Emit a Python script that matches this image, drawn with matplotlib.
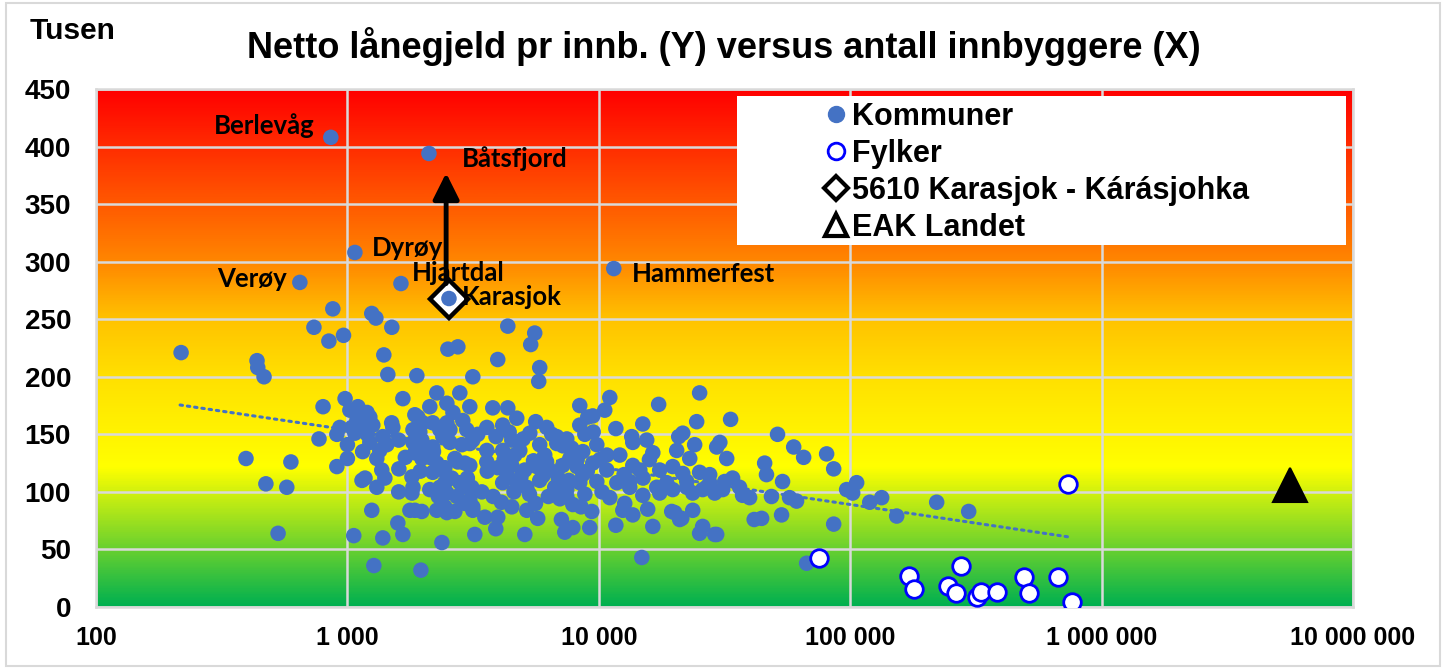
import numpy as np
import matplotlib
matplotlib.use("Agg")
import matplotlib.pyplot as plt
from matplotlib.colors import LinearSegmentedColormap
from matplotlib.lines import Line2D
from matplotlib.patches import Rectangle
from matplotlib.ticker import NullLocator

# ---------------- DATA ----------------
kommune_pop = [
    218, 437, 440, 466, 395, 596, 474, 574, 530,
    647, 875, 736, 844, 965, 859, 800, 771, 908, 1000, 979, 908, 933, 1000,
    1071, 1633, 2110, 2535, 11470,
    1250, 1298, 1502, 1396, 1448, 1889, 2510, 2750, 1662, 2268, 2127,
    1023, 1101, 1197, 1228, 1091, 1042, 1143, 1262, 1071, 1228, 1383, 1516, 1823, 1906, 1995, 2332, 2487, 2487,
    1309, 1345, 1435, 2800, 3154, 3068, 1855, 1941, 1977, 2186, 2397, 2557, 2877, 2984, 3154,
    1370, 1409, 1309, 1602, 1143, 1175, 1806, 1823, 1806, 1855, 1977, 1773, 2127, 2268, 2397, 2127, 2332,
    2487, 2725, 2930, 3068, 3154, 2268, 2487, 2676, 2800, 2984, 3212, 2750, 2930, 2852, 3068,
    1823, 1995, 2186, 1855, 1977, 2186, 2420, 2442,
    1060, 1274, 1960, 1250, 1383, 1587, 1662, 2376,
    4345, 5560, 5360, 3963, 5821, 5768, 11060, 8400, 25180, 17300, 33440, 24510, 14960, 11690, 10560,
    9040, 9462, 8400, 13520, 15510, 21580, 20790,
    2629, 3787, 4345, 4717, 4147, 3586, 5611, 6207, 6806, 7459, 5316, 4507,
    2557, 3586, 4147, 4850, 5821, 6806, 8636, 9819, 10760, 12120, 13650, 16400, 20410, 24060, 29440,
    2442, 3068, 3586, 3963, 4507, 5078, 5663, 6380, 7190, 8180, 8636, 9462, 10760, 13650, 14560,
    17470, 19680, 21580, 25180, 27610,
    2442, 3125, 3426, 4147, 4717, 5172, 5821, 6680, 7459, 8400, 9819, 11800, 13280, 17000, 19680,
    22380, 25890, 28910,
    14830, 5078, 3892, 9205, 11690, 16400, 7323, 7882, 7100, 25180, 25890, 28910, 13650, 15650, 12460,
    12680, 23640, 20980, 19500, 5715, 5172, 3521, 3154, 3963, 4100, 4507, 9376, 8500, 7882, 7459,
    11060, 13280, 14960, 17470, 18620,
    2676, 4632, 6094, 7668, 10090, 15900, 23000,
    3300, 3900, 4400, 5000, 6500, 7200, 7800, 8800, 9500, 4200, 5500, 6200, 3600, 4300, 4900, 6000,
    6900, 7600, 8200, 9000, 5300, 6300, 7000, 3000, 3800, 4600, 5600, 8800, 10300, 12600, 15000,
    2200, 2600, 1600, 1700, 1500, 1200, 1150, 1600, 1950, 2300,
    51400, 30300, 59600, 80580, 85960, 45680, 46450, 53820, 96790, 106100, 102300, 119600, 133400,
    153100, 220800, 296000, 48620, 57380, 61190, 37320, 41500, 44440, 53330, 85960, 67110, 29440,
    20040, 21380, 34060, 36310, 27610, 39800, 22380, 23640, 32270, 65290, 31690, 31100,
    733000,
]
kommune_val = [
    221, 214, 208, 200, 129, 126, 107, 104, 64,
    282, 259, 243, 231, 236, 408, 174, 146, 122, 129, 181, 150, 156, 141,
    308, 281, 394, 268, 294,
    255, 251, 243, 219, 202, 201, 224, 226, 181, 186, 174,
    171, 174, 169, 165, 162, 156, 156, 158, 151, 143, 148, 156, 154, 165, 160, 154, 177, 160,
    129, 136, 141, 186, 200, 174, 167, 152, 145, 160, 148, 154, 162, 154, 145,
    119, 112, 104, 120, 110, 112, 113, 104, 99, 84, 83, 84, 130, 125, 119, 102, 104,
    99, 96, 90, 93, 84, 84, 82, 83, 108, 104, 63, 126, 125, 141, 142,
    143, 136, 139, 134, 129, 117, 106, 87,
    62, 36, 32, 84, 60, 73, 63, 56,
    244, 238, 228, 215, 208, 196, 182, 175, 186, 176, 163, 161, 159, 155, 171,
    165, 166, 158, 148, 145, 151, 148,
    169, 173, 173, 164, 158, 156, 161, 156, 148, 146, 151, 145,
    143, 136, 136, 136, 141, 142, 135, 141, 132, 132, 143, 134, 136, 141, 139,
    121, 123, 126, 121, 123, 119, 122, 119, 123, 122, 115, 125, 119, 123, 119,
    119, 122, 116, 117, 115,
    108, 104, 100, 108, 109, 104, 110, 104, 102, 108, 109, 108, 109, 104, 102,
    109, 102, 99,
    43, 63, 68, 69, 71, 70, 65, 69, 76, 64, 70, 63, 80, 85, 84,
    90, 84, 76, 83, 77, 84, 78, 87, 78, 91, 87, 83, 87, 89, 96,
    95, 104, 97, 99, 108,
    129, 132, 132, 129, 128, 128, 129,
    150, 148, 152, 146, 150, 140, 138, 150, 152, 128, 127, 126, 118, 116, 113, 114,
    112, 110, 128, 118, 98, 96, 94, 112, 96, 100, 90, 98, 100, 115, 112,
    135, 112, 145, 130, 160, 150, 135, 100, 118, 96,
    150, 143, 139, 133, 120, 125, 115, 109, 102, 108, 99, 91, 95,
    79, 91, 83, 96, 95, 92, 97, 76, 77, 80, 72, 38, 63,
    82, 77, 112, 104, 108, 95, 104, 99, 129, 130, 109, 102,
    107,
]
fylke_pop = [75000, 171000, 180000, 244000, 263000, 275000, 318000, 330000, 383000,
             490000, 513000, 668000, 760000, 733000]
fylke_val = [43, 27, 16, 18, 12, 36, 9, 13, 13, 26, 12, 26, 4, 107]

karasjok_pop = [2535]
karasjok_val = [268]
landet_pop = [5640000]
landet_val = [106]

trend_pop = [216, 733000]
trend_val = [175.5, 61]

arrow_pop = 2470
arrow_val = [281, 377]

label_names = ["Berlevåg", "Båtsfjord", "Dyrøy", "Verøy", "Hjartdal", "Karasjok", "Hammerfest"]
label_pop = [859, 2110, 1071, 647, 1633, 2535, 11470]
label_val = [408, 394, 308, 282, 281, 268, 294]

x_ticks = [100, 1000, 10000, 100000, 1000000, 10000000]
x_tick_labels = ["100", "1 000", "10 000", "100 000", "1 000 000", "10 000 000"]
y_ticks = [0, 50, 100, 150, 200, 250, 300, 350, 400, 450]

legend_labels = ["Kommuner", "Fylker", "5610 Karasjok - Kárásjohka", "EAK Landet"]
title = "Netto lånegjeld pr innb. (Y) versus antall innbyggere (X)"

# ---------------- STYLE ----------------
W, H = 1442, 668
BOLD = dict(family="Liberation Sans", weight="bold")
KOM_C = "#4472C4"

fig = plt.figure(figsize=(W / 100, H / 100), dpi=100)
fig.patch.set_facecolor("white")
ax = fig.add_axes([96 / W, 1 - 607 / H, (1353 - 96) / W, (607 - 89) / H])

# gradient background
stops = [(0, (0, 176, 80)), (121, (255, 255, 0)), (200, (255, 224, 0)),
         (250, (255, 195, 0)), (300, (255, 135, 0)), (450, (255, 0, 0))]
cmap = LinearSegmentedColormap.from_list(
    "bg", [(v / 450, tuple(c / 255 for c in col)) for v, col in stops])
grad = np.linspace(0, 1, 600).reshape(-1, 1)
ax.imshow(grad, cmap=cmap, origin="lower", extent=(0, 1, 0, 1),
          transform=ax.transAxes, aspect="auto", zorder=0, interpolation="bilinear")

ax.set_xscale("log")
ax.set_xlim(100, 1e7)
ax.set_ylim(0, 450)
ax.set_axisbelow(True)
ax.grid(True, which="major", color="#D9D9D9", lw=1.8)
ax.xaxis.set_minor_locator(NullLocator())
ax.set_xticks(x_ticks, x_tick_labels)
ax.set_yticks(y_ticks)
for lab in ax.get_xticklabels():
    lab.set_fontproperties(dict(BOLD, size=18))
for lab in ax.get_yticklabels():
    lab.set_fontproperties(dict(BOLD, size=20))
ax.tick_params(axis="both", length=0)
ax.tick_params(axis="x", pad=14)
ax.tick_params(axis="y", pad=18)
for sp in ax.spines.values():
    sp.set_color("#D9D9D9")
    sp.set_linewidth(1.8)

# trendline
ax.plot(trend_pop, trend_val, color=KOM_C, lw=2.2, ls=(0, (0.8, 1.6)),
        dash_capstyle="round", zorder=2.5)

# Karasjok diamond (under the kommune dot)
ax.plot(karasjok_pop, karasjok_val, ls="none", marker="D", ms=19, mfc="white",
        mec="black", mew=3.2, zorder=2.8)

# kommuner
ax.scatter(kommune_pop, kommune_val, s=125, color=KOM_C, edgecolors="none", zorder=3)

# fylker
ax.scatter(fylke_pop, fylke_val, s=160, facecolors="white", edgecolors="#0000FF",
           linewidths=2.0, zorder=4)

# landet
ax.plot(landet_pop, landet_val, ls="none", marker="^", ms=24, mfc="black",
        mec="black", mew=1.5, zorder=4)

# arrow
ax.annotate("", xy=(arrow_pop, arrow_val[1]), xytext=(arrow_pop, arrow_val[0]),
            arrowprops=dict(arrowstyle="-|>,head_length=0.8,head_width=0.4",
                            lw=3.5, color="black", shrinkA=0, shrinkB=0,
                            mutation_scale=20),
            zorder=6)

# labels
offsets = {"Berlevåg": (-16, 12, "right"), "Båtsfjord": (33, -5, "left"),
           "Dyrøy": (17, 4, "left"), "Verøy": (-13, 3, "right"),
           "Hjartdal": (11, 11, "left"), "Karasjok": (13, 2, "left"),
           "Hammerfest": (18, -5, "left")}
for name, px, pv in zip(label_names, label_pop, label_val):
    dx, dy, ha = offsets[name]
    ax.annotate(name, (px, pv), xytext=(dx, dy), textcoords="offset pixels",
                ha=ha, va="center", fontsize=18.5, fontweight="bold",
                family="Lato", color="black", zorder=7)

# legend box and legend
ax.add_patch(Rectangle(((737 - 96) / 1257, (607 - 245) / 518), (1346 - 737) / 1257,
                       (245 - 96) / 518, transform=ax.transAxes, facecolor="white",
                       edgecolor="none", zorder=8))
handles = [
    Line2D([], [], ls="none", marker="o", ms=11.5, mfc=KOM_C, mec=KOM_C),
    Line2D([], [], ls="none", marker="o", ms=12, mfc="white", mec="#0000FF", mew=2),
    Line2D([], [], ls="none", marker="D", ms=12, mfc="white", mec="black", mew=3),
    Line2D([], [], ls="none", marker="^", ms=16, mfc="white", mec="black", mew=3),
]
leg = ax.legend(handles, legend_labels, loc="upper left",
                bbox_to_anchor=((821 - 96) / 1257, (607 - 102) / 518),
                frameon=False, borderpad=0, borderaxespad=0, handlelength=1.0,
                handletextpad=0.0, labelspacing=0.23, prop=dict(BOLD, size=22))
leg.set_zorder(9)

# title texts
fig.text(724 / W, 1 - 46 / H, title, ha="center", va="center", fontsize=26, **BOLD)
fig.text(30 / W, 1 - 31 / H, "Tusen", ha="left", va="center", fontsize=21.5, **BOLD)

# outer border
fig.patches.append(Rectangle((6 / W, 2 / H), (1440 - 6) / W, (665 - 2) / H,
                             transform=fig.transFigure, fill=False,
                             edgecolor="#D9D9D9", lw=1.5))

fig.savefig("out.png", dpi=100)
